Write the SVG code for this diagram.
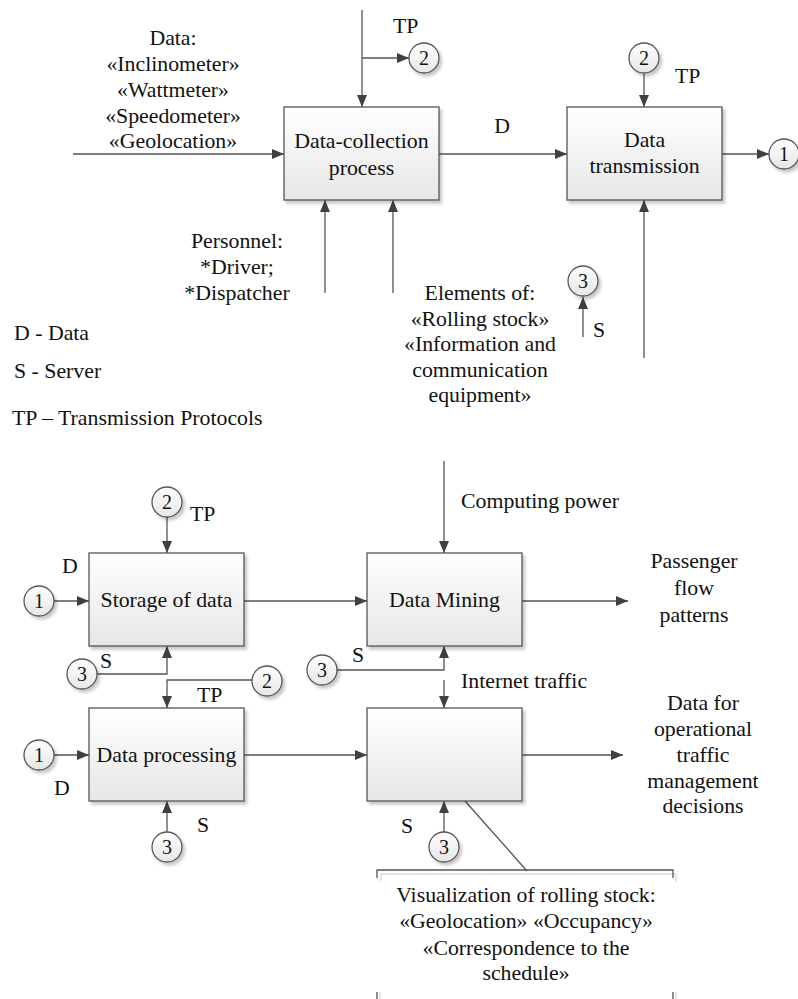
<svg xmlns="http://www.w3.org/2000/svg" width="798" height="999" viewBox="0 0 798 999" font-family="'Liberation Serif', 'Times New Roman', serif">
<defs>
<linearGradient id="boxg" x1="0" y1="0" x2="0" y2="1">
<stop offset="0" stop-color="#ffffff"/>
<stop offset="1" stop-color="#e6e6e6"/>
</linearGradient>
<filter id="sh" x="-20%" y="-20%" width="150%" height="150%">
<feDropShadow dx="2.5" dy="3" stdDeviation="1.5" flood-color="#000" flood-opacity="0.22"/>
</filter>
<marker id="ah" markerUnits="userSpaceOnUse" markerWidth="13" markerHeight="11" refX="12" refY="5" orient="auto">
<path d="M0,0 L12,5 L0,10 z" fill="#404040"/>
</marker>
</defs>
<style>
text{font-family:"Liberation Serif","Times New Roman",serif;font-size:21.8px;fill:#111}
.c{text-anchor:middle}
.box{fill:url(#boxg);stroke:#555;stroke-width:1.3;filter:url(#sh)}
.circ{fill:url(#boxg);stroke:#555;stroke-width:1.3;filter:url(#sh)}
.ln{fill:none;stroke:#555;stroke-width:1.3}
.ar{fill:none;stroke:#555;stroke-width:1.3;marker-end:url(#ah)}
.ct{text-anchor:middle;font-size:20px}
</style>

<g id="connectors">
<line class="ar" x1="73" y1="154" x2="284" y2="154"/>
<line class="ar" x1="362" y1="10" x2="362" y2="107"/>
<line class="ar" x1="362" y1="58" x2="409" y2="58"/>
<line class="ar" x1="439" y1="154" x2="567" y2="154"/>
<line class="ar" x1="644" y1="74" x2="644" y2="107"/>
<line class="ar" x1="722" y1="154" x2="769" y2="154"/>
<line class="ar" x1="325" y1="293" x2="325" y2="200"/>
<line class="ar" x1="393" y1="293" x2="393" y2="200"/>
<line class="ar" x1="583" y1="337" x2="583" y2="297"/>
<line class="ar" x1="644" y1="358" x2="644" y2="200"/>

<line class="ar" x1="167" y1="517" x2="167" y2="553"/>
<line class="ar" x1="54" y1="601" x2="89" y2="601"/>
<line class="ar" x1="244" y1="601" x2="367" y2="601"/>
<path class="ar" d="M97,674 H167 V646"/>
<path class="ar" d="M252,680 H167 V708"/>
<line class="ar" x1="54" y1="755" x2="89" y2="755"/>
<line class="ar" x1="167" y1="832" x2="167" y2="801"/>
<line class="ar" x1="244" y1="755" x2="367" y2="755"/>
<line class="ar" x1="444" y1="461" x2="444" y2="553"/>
<line class="ar" x1="522" y1="601" x2="628" y2="601"/>
<path class="ar" d="M337,670 H444 V646"/>
<line class="ar" x1="444" y1="680" x2="444" y2="708"/>
<line class="ar" x1="522" y1="755" x2="623" y2="755"/>
<line class="ar" x1="444" y1="832" x2="444" y2="801"/>
<line class="ln" x1="465" y1="801" x2="527" y2="871"/>
</g>

<g id="data-collection">
<rect class="box" x="284" y="107" width="155" height="93"/>
<text class="c" x="361.5" y="148">Data-collection</text>
<text class="c" x="361.5" y="175">process</text>
</g>
<g id="data-transmission">
<rect class="box" x="567" y="107" width="155" height="93"/>
<text class="c" x="644.5" y="147">Data</text>
<text class="c" x="644.5" y="173">transmission</text>
</g>
<g id="storage">
<rect class="box" x="89" y="553" width="155" height="93"/>
<text class="c" x="166.5" y="607">Storage of data</text>
</g>
<g id="data-mining">
<rect class="box" x="367" y="553" width="155" height="93"/>
<text class="c" x="444.5" y="607">Data Mining</text>
</g>
<g id="data-processing">
<rect class="box" x="89" y="708" width="155" height="93"/>
<text class="c" x="166.5" y="762">Data processing</text>
</g>
<g id="visualization-box">
<rect class="box" x="367" y="708" width="155" height="93"/>
</g>

<g id="circles">
<circle class="circ" cx="424" cy="58" r="15"/><text class="ct" x="424" y="65">2</text>
<circle class="circ" cx="644" cy="58" r="15"/><text class="ct" x="644" y="65">2</text>
<circle class="circ" cx="784" cy="154" r="15"/><text class="ct" x="784" y="161">1</text>
<circle class="circ" cx="583" cy="281" r="15"/><text class="ct" x="583" y="288">3</text>
<circle class="circ" cx="167" cy="502" r="15"/><text class="ct" x="167" y="509">2</text>
<circle class="circ" cx="39" cy="601" r="15"/><text class="ct" x="39" y="608">1</text>
<circle class="circ" cx="82" cy="674" r="15"/><text class="ct" x="82" y="681">3</text>
<circle class="circ" cx="267" cy="681" r="15"/><text class="ct" x="267" y="688">2</text>
<circle class="circ" cx="39" cy="755" r="15"/><text class="ct" x="39" y="762">1</text>
<circle class="circ" cx="167" cy="847" r="15"/><text class="ct" x="167" y="854">3</text>
<circle class="circ" cx="322" cy="670" r="15"/><text class="ct" x="322" y="677">3</text>
<circle class="circ" cx="444" cy="847" r="15"/><text class="ct" x="444" y="854">3</text>
</g>

<g id="labels">
<text class="c" x="173" y="45">Data:</text>
<text class="c" x="173" y="71">«Inclinometer»</text>
<text class="c" x="173" y="97">«Wattmeter»</text>
<text class="c" x="173" y="123">«Speedometer»</text>
<text class="c" x="173" y="148">«Geolocation»</text>
<text x="393" y="33">TP</text>
<text class="c" x="502" y="133">D</text>
<text x="675" y="83">TP</text>
<text class="c" x="237" y="248">Personnel:</text>
<text class="c" x="237" y="274">*Driver;</text>
<text class="c" x="237" y="300">*Dispatcher</text>
<text class="c" x="480" y="300">Elements of:</text>
<text class="c" x="480" y="326">«Rolling stock»</text>
<text class="c" x="480" y="351">«Information and</text>
<text class="c" x="480" y="377">communication</text>
<text class="c" x="480" y="402">equipment»</text>
<text x="593" y="337">S</text>
<text x="14" y="340">D - Data</text>
<text x="14" y="378">S - Server</text>
<text x="12" y="425">TP – Transmission Protocols</text>

<text x="190" y="521">TP</text>
<text x="62" y="573">D</text>
<text x="100" y="668">S</text>
<text x="197" y="702">TP</text>
<text x="54" y="795">D</text>
<text x="197" y="832">S</text>
<text x="461" y="508">Computing power</text>
<text class="c" x="694" y="568">Passenger</text>
<text class="c" x="694" y="595">flow</text>
<text class="c" x="694" y="622">patterns</text>
<text x="352" y="662">S</text>
<text x="461" y="688">Internet traffic</text>
<text class="c" x="703" y="710">Data for</text>
<text class="c" x="703" y="736">operational</text>
<text class="c" x="703" y="762">traffic</text>
<text class="c" x="703" y="788">management</text>
<text class="c" x="703" y="813">decisions</text>
<text x="401" y="833">S</text>
</g>

<g id="annotation">
<path d="M381,881 V874 H676 V882" fill="none" stroke="#ccc" stroke-width="1"/>
<path d="M377,878 V870 H673 V878" fill="none" stroke="#555" stroke-width="1.3"/>
<line x1="377" y1="992" x2="377" y2="999" stroke="#555" stroke-width="1.3"/>
<line x1="380" y1="992" x2="380" y2="999" stroke="#ccc" stroke-width="1"/>
<line x1="673" y1="992" x2="673" y2="999" stroke="#555" stroke-width="1.3"/>
<line x1="676" y1="992" x2="676" y2="999" stroke="#ccc" stroke-width="1"/>
<text class="c" x="526" y="902">Visualization of rolling stock:</text>
<text class="c" x="526" y="928">«Geolocation» «Occupancy»</text>
<text class="c" x="526" y="955">«Correspondence to the</text>
<text class="c" x="526" y="980">schedule»</text>
</g>
</svg>
